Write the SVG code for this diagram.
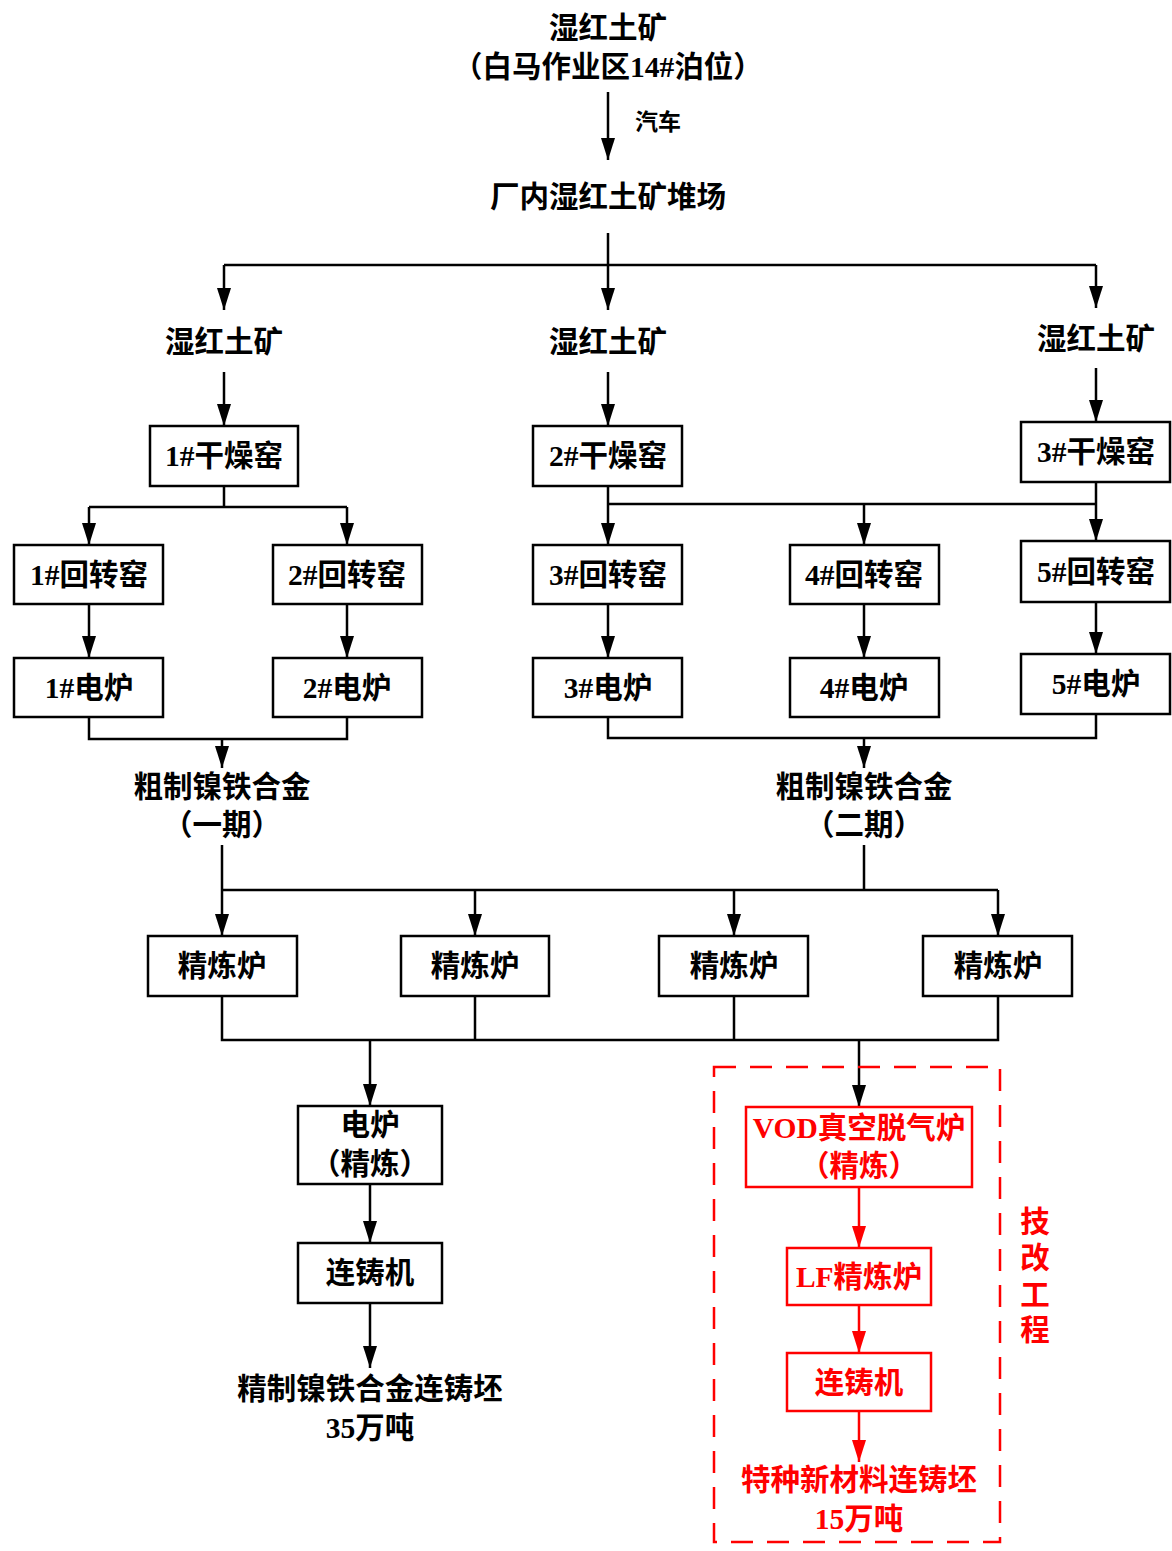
<svg xmlns="http://www.w3.org/2000/svg" width="1172" height="1551" viewBox="0 0 1172 1551">
<style>
text{font-family:"Liberation Serif","Noto Sans CJK SC",serif;font-size:29.5px;font-weight:600;text-anchor:middle;fill:#000}
.r{fill:#ff0000}
.s{font-size:23px}
.box{fill:#fff;stroke:#000;stroke-width:2.5}
.rbox{fill:#fff;stroke:#ff0000;stroke-width:2.5}
.ln{fill:none;stroke:#000;stroke-width:2.5}
.rln{fill:none;stroke:#ff0000;stroke-width:2.5}
</style>
<defs>
<marker id="a" viewBox="0 0 22 14" refX="22" refY="7" markerWidth="22" markerHeight="14" markerUnits="userSpaceOnUse" orient="auto"><path d="M0,0 L22,7 L0,14 z" fill="#000"/></marker>
<marker id="ar" viewBox="0 0 22 14" refX="22" refY="7" markerWidth="22" markerHeight="14" markerUnits="userSpaceOnUse" orient="auto"><path d="M0,0 L22,7 L0,14 z" fill="#ff0000"/></marker>
</defs>
<rect width="1172" height="1551" fill="#fff"/>
<g id="connectors">
<path class="ln" d="M608,92 V160" marker-end="url(#a)"/>
<path class="ln" d="M608,233 V265 M224,265 H1096"/>
<path class="ln" d="M224,265 V310" marker-end="url(#a)"/>
<path class="ln" d="M608,265 V310" marker-end="url(#a)"/>
<path class="ln" d="M1096,265 V308" marker-end="url(#a)"/>
<path class="ln" d="M224,372 V426" marker-end="url(#a)"/>
<path class="ln" d="M608,372 V426" marker-end="url(#a)"/>
<path class="ln" d="M1096,368 V422" marker-end="url(#a)"/>
<path class="ln" d="M224,486 V507 M89,507 H347"/>
<path class="ln" d="M89,507 V545" marker-end="url(#a)"/>
<path class="ln" d="M347,507 V545" marker-end="url(#a)"/>
<path class="ln" d="M89,604 V658" marker-end="url(#a)"/>
<path class="ln" d="M347,604 V658" marker-end="url(#a)"/>
<path class="ln" d="M89,717 V739 H347 V717"/>
<path class="ln" d="M222,739 V768" marker-end="url(#a)"/>
<path class="ln" d="M608,486 V545" marker-end="url(#a)"/>
<path class="ln" d="M608,504 H1096"/>
<path class="ln" d="M864,504 V545" marker-end="url(#a)"/>
<path class="ln" d="M1096,482 V541" marker-end="url(#a)"/>
<path class="ln" d="M608,604 V658" marker-end="url(#a)"/>
<path class="ln" d="M864,604 V658" marker-end="url(#a)"/>
<path class="ln" d="M1096,602 V654" marker-end="url(#a)"/>
<path class="ln" d="M608,717 V738 H1096 V714"/>
<path class="ln" d="M864,738 V768" marker-end="url(#a)"/>
<path class="ln" d="M222,845 V890 M864,845 V890 M222,890 H998"/>
<path class="ln" d="M222,890 V936" marker-end="url(#a)"/>
<path class="ln" d="M475,890 V936" marker-end="url(#a)"/>
<path class="ln" d="M734,890 V936" marker-end="url(#a)"/>
<path class="ln" d="M998,890 V936" marker-end="url(#a)"/>
<path class="ln" d="M222,996 V1040 H998 V996 M475,996 V1040 M734,996 V1040"/>
<path class="ln" d="M370,1040 V1106" marker-end="url(#a)"/>
<path class="ln" d="M859,1040 V1107" marker-end="url(#a)"/>
<path class="ln" d="M370,1184 V1243" marker-end="url(#a)"/>
<path class="ln" d="M370,1303 V1368" marker-end="url(#a)"/>
<path class="rln" d="M859,1187 V1248" marker-end="url(#ar)"/>
<path class="rln" d="M859,1305 V1353" marker-end="url(#ar)"/>
<path class="rln" d="M859,1411 V1462" marker-end="url(#ar)"/>
</g>
<g id="n-src"><text x="608" y="38">湿红土矿</text><text x="608" y="77">（白马作业区14#泊位）</text></g>
<g id="l-truck"><text class="s" x="658" y="130">汽车</text></g>
<g id="n-yard"><text x="608" y="207">厂内湿红土矿堆场</text></g>
<g id="n-ore1"><text x="224" y="352">湿红土矿</text></g>
<g id="n-ore2"><text x="608" y="352">湿红土矿</text></g>
<g id="n-ore3"><text x="1096" y="349">湿红土矿</text></g>
<g id="n-dry1"><rect class="box" x="150" y="426" width="148" height="60"/><text x="224" y="466">1#干燥窑</text></g>
<g id="n-dry2"><rect class="box" x="533" y="426" width="149" height="60"/><text x="608" y="466">2#干燥窑</text></g>
<g id="n-dry3"><rect class="box" x="1021" y="422" width="149" height="60"/><text x="1096" y="462">3#干燥窑</text></g>
<g id="n-rk1"><rect class="box" x="14" y="545" width="149" height="59"/><text x="89" y="585">1#回转窑</text></g>
<g id="n-rk2"><rect class="box" x="273" y="545" width="149" height="59"/><text x="347" y="585">2#回转窑</text></g>
<g id="n-rk3"><rect class="box" x="533" y="545" width="149" height="59"/><text x="608" y="585">3#回转窑</text></g>
<g id="n-rk4"><rect class="box" x="790" y="545" width="149" height="59"/><text x="864" y="585">4#回转窑</text></g>
<g id="n-rk5"><rect class="box" x="1021" y="541" width="149" height="61"/><text x="1096" y="582">5#回转窑</text></g>
<g id="n-ef1"><rect class="box" x="14" y="658" width="149" height="59"/><text x="89" y="698">1#电炉</text></g>
<g id="n-ef2"><rect class="box" x="273" y="658" width="149" height="59"/><text x="347" y="698">2#电炉</text></g>
<g id="n-ef3"><rect class="box" x="533" y="658" width="149" height="59"/><text x="608" y="698">3#电炉</text></g>
<g id="n-ef4"><rect class="box" x="790" y="658" width="149" height="59"/><text x="864" y="698">4#电炉</text></g>
<g id="n-ef5"><rect class="box" x="1021" y="654" width="149" height="60"/><text x="1096" y="694">5#电炉</text></g>
<g id="n-crude1"><text x="222" y="797">粗制镍铁合金</text><text x="222" y="835">（一期）</text></g>
<g id="n-crude2"><text x="864" y="797">粗制镍铁合金</text><text x="864" y="835">（二期）</text></g>
<g id="n-rf1"><rect class="box" x="148" y="936" width="149" height="60"/><text x="222" y="976">精炼炉</text></g>
<g id="n-rf2"><rect class="box" x="401" y="936" width="148" height="60"/><text x="475" y="976">精炼炉</text></g>
<g id="n-rf3"><rect class="box" x="659" y="936" width="149" height="60"/><text x="734" y="976">精炼炉</text></g>
<g id="n-rf4"><rect class="box" x="923" y="936" width="149" height="60"/><text x="998" y="976">精炼炉</text></g>
<g id="n-efr"><rect class="box" x="298" y="1106" width="144" height="78"/><text x="370" y="1135">电炉</text><text x="370" y="1174">（精炼）</text></g>
<g id="n-cc1"><rect class="box" x="298" y="1243" width="144" height="60"/><text x="370" y="1283">连铸机</text></g>
<g id="n-out1"><text x="370" y="1399">精制镍铁合金连铸坯</text><text x="370" y="1438">35万吨</text></g>
<g id="n-tech"><rect x="714" y="1067" width="286" height="475" fill="none" stroke="#ff0000" stroke-width="2.5" stroke-dasharray="22,14"/>
<text class="r" x="1035" y="1232">技</text><text class="r" x="1035" y="1268">改</text><text class="r" x="1035" y="1305">工</text><text class="r" x="1035" y="1340">程</text></g>
<g id="n-vod"><rect class="rbox" x="746" y="1107" width="226" height="80"/><text class="r" x="859" y="1138">VOD真空脱气炉</text><text class="r" x="859" y="1176">（精炼）</text></g>
<g id="n-lf"><rect class="rbox" x="787" y="1248" width="144" height="57"/><text class="r" x="859" y="1287">LF精炼炉</text></g>
<g id="n-cc2"><rect class="rbox" x="787" y="1353" width="144" height="58"/><text class="r" x="859" y="1393">连铸机</text></g>
<g id="n-out2"><text class="r" x="859" y="1490">特种新材料连铸坯</text><text class="r" x="859" y="1529">15万吨</text></g>
</svg>
